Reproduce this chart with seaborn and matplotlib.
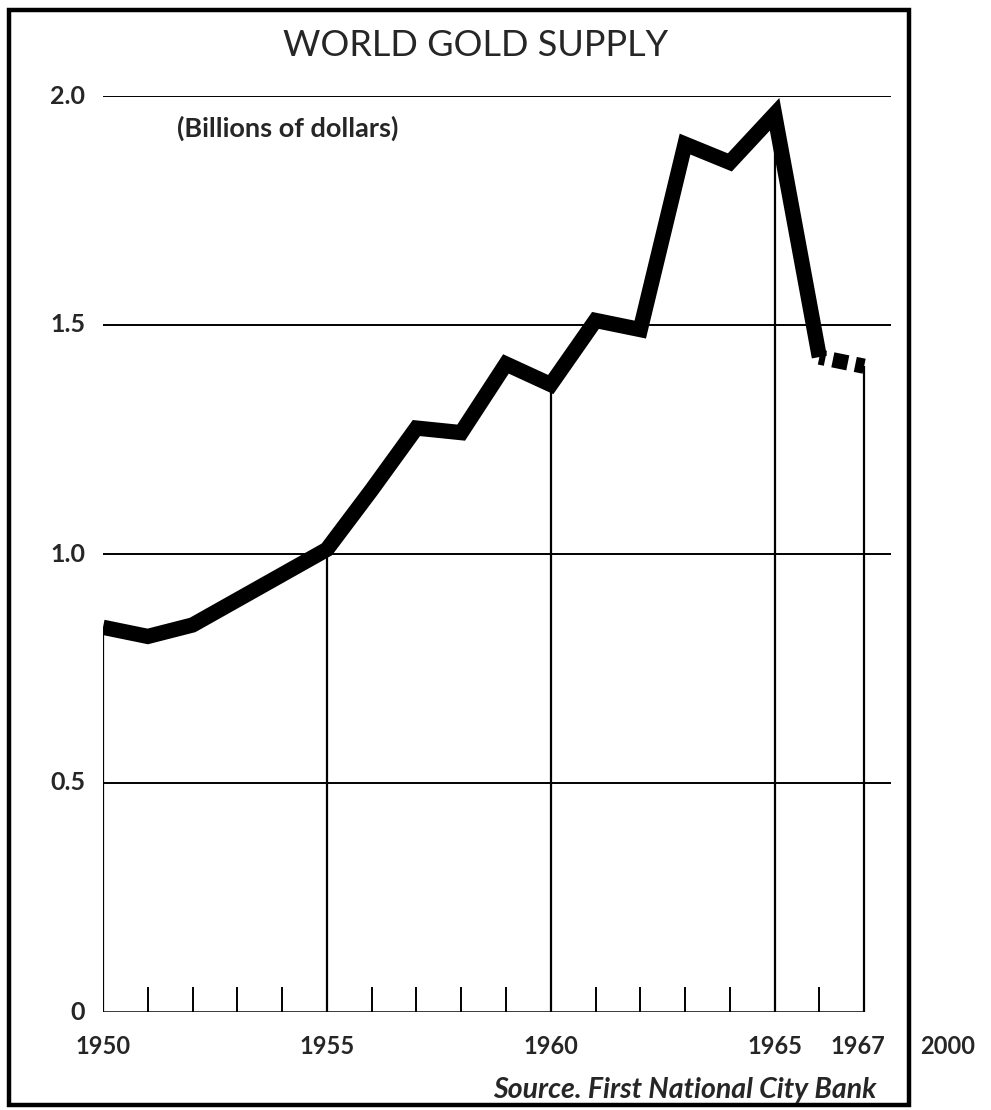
import matplotlib
matplotlib.use("Agg")
import matplotlib.pyplot as plt
import seaborn as sns
import pandas as pd
import numpy as np
from matplotlib.patches import Rectangle

# Datos (miles de millones de dólares)
years = [1950, 1951, 1952, 1953, 1954, 1955, 1956, 1957, 1958,
         1959, 1960, 1961, 1962, 1963, 1964, 1965, 1966, 1967]
supply = [0.84, 0.82, 0.845, 0.90, 0.955, 1.01, 1.14, 1.275, 1.265,
          1.415, 1.37, 1.51, 1.49, 1.895, 1.855, 1.96, 1.43, 1.41]
ytick_vals = [0, 0.5, 1.0, 1.5, 2.0]
ytick_labels = ['0', '0.5', '1.0', '1.5', '2.0']
xlabel_years = [1950, 1955, 1960, 1965, 1967]

sns.set_style("white")
plt.rcParams['font.family'] = ['Lato', 'DejaVu Sans']

df = pd.DataFrame({'year': years, 'supply': supply})
solid = df[df['year'] <= 1966]
dashed = df[df['year'] >= 1966]

fig = plt.figure(figsize=(9.91, 11.10), dpi=100)
ax = fig.add_axes([103 / 991, 98 / 1110, 788 / 991, 916 / 1110])
ax.set_xlim(1950, 1967.6)
ax.set_ylim(0, 2.0)
ax.axis('off')

# Líneas horizontales de referencia
ax.hlines([0.5, 1.0, 1.5, 2.0], 1950, 1967.6, color='black', linewidth=1.4)
# Eje inferior y marcas de años
ax.hlines(0, 1950, 1967, color='black', linewidth=1.8)
ax.vlines(years, 0, 0.055, color='black', linewidth=1.4)
# Líneas verticales hasta la curva
for yr in xlabel_years:
    val = df.loc[df['year'] == yr, 'supply'].iloc[0]
    ax.vlines(yr, 0, val, color='black', linewidth=1.6)

# Curva principal
sns.lineplot(data=solid, x='year', y='supply', ax=ax, color='black',
             linewidth=11, solid_joinstyle='miter', solid_capstyle='butt')
sns.lineplot(data=dashed, x='year', y='supply', ax=ax, color='black',
             linewidth=11, linestyle=(0.6, (1.0, 0.5)), dash_capstyle='butt')

# Etiquetas del eje Y
for v, lab in zip(ytick_vals, ytick_labels):
    ax.text(1949.6, v, lab, ha='right', va='center', fontsize=18,
            fontweight='bold')
# Etiquetas del eje X
for yr in xlabel_years:
    ax.text(yr - (0.15 if yr == 1967 else 0), -0.075, str(yr), ha='center',
            va='center', fontsize=17, fontweight='bold')

ax.text(1951.65, 1.93, '(Billions of dollars)', ha='left', va='center',
        fontsize=19.5, fontweight='bold')

fig.text(476 / 991, 1 - 45 / 1110, 'WORLD GOLD SUPPLY', ha='center',
         va='center', fontsize=26)
fig.text(876 / 991, 1 - 1090 / 1110, 'Source. First National City Bank',
         ha='right', va='center', fontsize=20.5, fontweight='bold',
         style='italic')
fig.text(948 / 991, 1 - 1047 / 1110, '2000', ha='center', va='center',
         fontsize=17, fontweight='bold')

# Marco
fig.patches.append(Rectangle((9 / 991, 1 - 1105 / 1110), 900 / 991,
                             1095 / 1110, transform=fig.transFigure,
                             fill=False, edgecolor='black', linewidth=3.2))

plt.savefig('out.png', dpi=100, facecolor='white')
plt.close()
